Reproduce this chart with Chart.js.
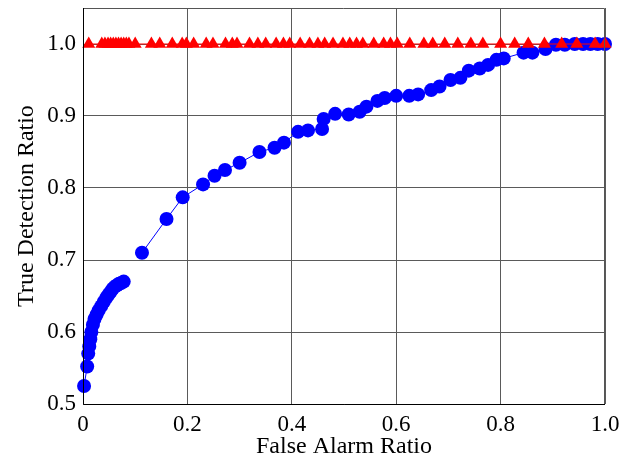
<!DOCTYPE html>
<html>
<head>
<meta charset="utf-8">
<script src="https://cdn.jsdelivr.net/npm/chart.js@4/dist/chart.umd.min.js"></script>
<style>
  html, body { margin: 0; padding: 0; background: #fff; }
  #wrap { width: 630px; height: 464px; }
</style>
</head>
<body>
<div id="wrap"><canvas id="roc"></canvas></div>
<script>
// blue curve (circles)
const blueX = [0.002, 0.008, 0.010, 0.012, 0.014, 0.016, 0.019, 0.022, 0.026, 0.030, 0.035, 0.040, 0.045, 0.049, 0.053, 0.057, 0.061, 0.065, 0.069, 0.073, 0.078,
  0.095,
  0.113, 0.160, 0.191, 0.230, 0.252, 0.272, 0.300, 0.338, 0.367, 0.385, 0.412, 0.431, 0.458, 0.461, 0.483, 0.509, 0.530, 0.543, 0.564, 0.578,
  0.600, 0.625, 0.642, 0.667, 0.683, 0.704, 0.723, 0.739, 0.760, 0.776, 0.792, 0.806, 0.844, 0.861, 0.886, 0.906, 0.923, 0.942, 0.958, 0.972, 0.986, 1.000];
const blueY = [0.525, 0.552, 0.570, 0.580, 0.590, 0.600, 0.610, 0.618, 0.624, 0.630, 0.636, 0.642, 0.648, 0.652, 0.656, 0.660, 0.663, 0.665, 0.667, 0.668, 0.670,
  null,
  0.710, 0.757, 0.787, 0.805, 0.817, 0.825, 0.835, 0.850, 0.856, 0.863, 0.878, 0.880, 0.882, 0.896, 0.903, 0.902, 0.906, 0.913, 0.921, 0.925,
  0.928, 0.928, 0.930, 0.936, 0.941, 0.950, 0.953, 0.963, 0.966, 0.971, 0.978, 0.980, 0.988, 0.988, 0.993, 0.999, 0.999, 1.000, 1.000, 1.000, 1.000, 1.000];

// red curve (triangles)
const redX = [0.011, 0.036, 0.042, 0.048, 0.053, 0.058, 0.063, 0.068, 0.073, 0.078, 0.083, 0.088, 0.100, 0.131, 0.147, 0.171, 0.190, 0.198, 0.212, 0.236,
  0.249, 0.273, 0.286, 0.295, 0.319, 0.335, 0.350, 0.370, 0.384, 0.396, 0.416, 0.434, 0.450, 0.463, 0.479, 0.498,
  0.511, 0.524, 0.536, 0.557, 0.576, 0.589, 0.602, 0.626, 0.653, 0.670, 0.693, 0.718, 0.743, 0.766,
  0.800, 0.827, 0.853, 0.884, 0.917, 0.946, 0.981, 1.000];
const redY = [1, 1, 1, 1, 1, 1, 1, 1, 1, 1, 1, 1, 1, 1, 1, 1, 1, 1, 1, 1,
  1, 1, 1, 1, 1, 1, 1, 1, 1, 1, 1, 1, 1, 1, 1, 1,
  1, 1, 1, 1, 1, 1, 1, 1, 1, 1, 1, 1, 1, 1,
  1, 1, 1, 1, 1, 1, 1, 1];

const xTicks = [0, 0.2, 0.4, 0.6, 0.8, 1.0];
const xTickLabels = ['0', '0.2', '0.4', '0.6', '0.8', '1.0'];
const yTicks = [0.5, 0.6, 0.7, 0.8, 0.9, 1.0];
const yTickLabels = ['0.5', '0.6', '0.7', '0.8', '0.9', '1.0'];

const font = "'Liberation Serif', 'DejaVu Serif', serif";

const pts = (xs, ys) => xs.map((x, i) => ({x: x, y: ys[i]}));

// frame round the plot, matlab style
const boxPlugin = {
  id: 'box',
  afterDraw(chart) {
    const a = chart.chartArea, ctx = chart.ctx;
    ctx.save();
    ctx.lineWidth = 1;
    ctx.strokeStyle = '#555';
    ctx.beginPath();
    ctx.moveTo(a.left, a.top + 0.5);
    ctx.lineTo(a.right - 0.5, a.top + 0.5);
    ctx.lineTo(a.right - 0.5, a.bottom);
    ctx.stroke();
    ctx.strokeStyle = '#000';
    ctx.beginPath();
    ctx.moveTo(a.left + 0.5, a.top);
    ctx.lineTo(a.left + 0.5, a.bottom + 0.5);
    ctx.lineTo(a.right, a.bottom + 0.5);
    ctx.stroke();
    ctx.restore();
  }
};

let ctx = document.getElementById('roc');
let rocChart = new Chart(ctx, {
  type: 'scatter',
  data: {
    datasets: [{
      label: 'red',
      data: pts(redX, redY),
      showLine: true,
      borderColor: '#ff0000',
      borderWidth: 1,
      backgroundColor: '#ff0000',
      pointStyle: 'triangle',
      pointRadius: 7.5,
      pointBorderWidth: 0,
      order: 0
    }, {
      label: 'blue',
      data: pts(blueX, blueY),
      showLine: true,
      spanGaps: false,
      borderColor: '#0000ff',
      borderWidth: 1,
      backgroundColor: '#0000ff',
      pointStyle: 'circle',
      pointRadius: 7,
      pointBorderWidth: 0,
      order: 1
    }]
  },
  options: {
    responsive: true,
    maintainAspectRatio: false,
    animation: false,
    events: [],
    clip: false,
    layout: { padding: { top: 8, right: 25, left: 12, bottom: 0 } },
    plugins: { legend: { display: false }, tooltip: { enabled: false } },
    scales: {
      x: {
        type: 'linear',
        min: 0, max: 1,
        afterBuildTicks: (s) => { s.ticks = xTicks.map(v => ({value: v})); },
        afterFit: (s) => { s.height = 60; s.paddingLeft = 0; s.paddingRight = 0; },
        grid: { color: '#5a5a5a', lineWidth: 1, drawTicks: false },
        border: { display: false },
        ticks: {
          color: '#000',
          padding: 7,
          maxRotation: 0,
          font: { family: font, size: 23 },
          callback: (v, i) => xTickLabels[i]
        },
        title: {
          display: true,
          text: 'False Alarm Ratio',
          color: '#000',
          padding: { top: 0, bottom: 3 },
          font: { family: font, size: 24 }
        }
      },
      y: {
        type: 'linear',
        min: 0.5, max: 1.05,
        afterBuildTicks: (s) => { s.ticks = yTicks.map(v => ({value: v})); },
        afterFit: (s) => { s.width = 71; s.paddingTop = 0; s.paddingBottom = 0; },
        grid: { color: '#5a5a5a', lineWidth: 1, drawTicks: false },
        border: { display: false },
        ticks: {
          color: '#000',
          padding: 7,
          font: { family: font, size: 23 },
          callback: (v, i) => yTickLabels[i]
        },
        title: {
          display: true,
          text: 'True Detection Ratio',
          color: '#000',
          padding: { top: 0, bottom: 0 },
          font: { family: font, size: 24 }
        }
      }
    }
  },
  plugins: [boxPlugin]
});
</script>
</body>
</html>
